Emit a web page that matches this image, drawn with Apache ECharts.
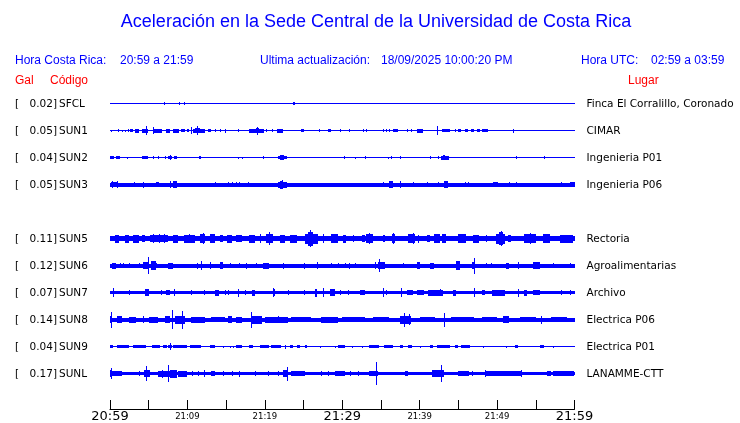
<!DOCTYPE html>
<html>
<head>
<meta charset="utf-8">
<script src="https://cdn.jsdelivr.net/npm/echarts@6/dist/echarts.min.js"></script>
<style>
  html, body { margin: 0; background: #fff; }
  #chart { width: 740px; height: 423px; }
</style>
</head>
<body>
<div id="chart"></div>
<script>
// estaciones, de arriba hacia abajo
const codes = ['SFCL', 'SUN1', 'SUN2', 'SUN3', 'SUN5', 'SUN6', 'SUN7', 'SUN8', 'SUN9', 'SUNL']
const peaks = ['0.02', '0.05', '0.04', '0.05', '0.11', '0.12', '0.07', '0.14', '0.04', '0.17']
const places = ['Finca El Corralillo, Coronado', 'CIMAR', 'Ingenieria P01', 'Ingenieria P06', 'Rectoria',
  'Agroalimentarias', 'Archivo', 'Electrica P06', 'Electrica P01', 'LANAMME-CTT']
// ruido de fondo (Gal, semi-amplitud)
const noise = [0, 0, 0, 0.028, 0.04, 0.027, 0.025, 0.032, 0, 0.025]

// eje de tiempo: minutos desde 20:59
const tickMinutes = [0, 10, 20, 30, 40, 50, 60]
const tickLabels = ['20:59', '21:09', '21:19', '21:29', '21:39', '21:49', '21:59']
const bigLabels = ['20:59', '21:29', '21:59']

// eventos por estacion: [inicio min, fin min, semi-amplitud Gal]
const sfcl = [[7.0, 7.0, 0.02], [8.9, 8.9, 0.02], [9.5, 9.5, 0.02], [23.7, 23.9, 0.02]]
const sun1 = [[0.1, 0.1, 0.015], [1.0, 1.0, 0.025], [1.5, 1.5, 0.015], [1.9, 1.9, 0.015], [2.3, 2.3, 0.02],
  [2.6, 3.0, 0.02], [3.2, 3.7, 0.028], [4.1, 4.9, 0.028], [4.65, 4.65, 0.065], [5.5, 5.5, 0.05],
  [5.6, 6.7, 0.028], [7.2, 7.8, 0.028], [8.1, 8.9, 0.028], [9.2, 9.7, 0.025], [9.9, 10.2, 0.025],
  [10.45, 10.45, 0.055], [10.7, 12.3, 0.028], [11.0, 11.6, 0.04], [11.3, 11.3, 0.07], [12.6, 13.0, 0.025],
  [13.5, 13.5, 0.025], [14.2, 14.2, 0.02], [14.8, 15.0, 0.028], [16.5, 16.5, 0.02], [17.9, 19.9, 0.028],
  [18.8, 19.3, 0.04], [19.05, 19.05, 0.06], [20.1, 20.1, 0.02], [20.9, 20.9, 0.025], [21.6, 22.3, 0.028],
  [24.7, 25.0, 0.025], [27.0, 27.0, 0.025], [28.1, 28.6, 0.025], [29.7, 29.7, 0.02], [30.9, 30.9, 0.02],
  [32.7, 32.7, 0.02], [33.1, 33.1, 0.02], [35.3, 35.3, 0.025], [35.6, 35.6, 0.025], [36.1, 36.1, 0.025],
  [36.5, 37.2, 0.025], [38.4, 38.4, 0.025], [38.9, 38.9, 0.025], [39.7, 40.4, 0.028], [42.2, 42.2, 0.07],
  [42.9, 43.9, 0.025], [44.5, 44.5, 0.025], [44.9, 45.4, 0.025], [45.8, 46.2, 0.025], [46.6, 47.0, 0.025],
  [47.4, 47.8, 0.025], [48.1, 48.8, 0.025], [52.0, 52.0, 0.03]]
const sun2 = [[0, 0.5, 0.025], [0.8, 1.3, 0.025], [2.2, 2.2, 0.015], [4.1, 4.9, 0.025], [5.6, 5.6, 0.02],
  [6.2, 6.2, 0.02], [7.1, 7.1, 0.02], [7.5, 8.0, 0.025], [7.8, 7.8, 0.035], [8.3, 8.7, 0.025],
  [11.5, 11.8, 0.025], [16.5, 16.5, 0.015], [17.0, 17.0, 0.015], [19.7, 19.7, 0.02], [21.7, 22.9, 0.025],
  [22.0, 22.5, 0.04], [30.2, 30.2, 0.02], [31.7, 31.7, 0.015], [33.0, 33.0, 0.02], [35.9, 35.9, 0.015],
  [36.3, 36.3, 0.025], [37.4, 37.4, 0.025], [41.3, 41.3, 0.02], [42.4, 42.4, 0.025], [42.7, 43.8, 0.03],
  [43.0, 43.3, 0.04], [52.4, 52.4, 0.02], [56.1, 56.1, 0.02]]
const sun3 = [[0.1, 1.0, 0.04], [0.3, 0.3, 0.055], [0.9, 0.9, 0.055], [3.1, 3.1, 0.035], [4.2, 4.2, 0.045],
  [6.0, 6.3, 0.04], [7.8, 7.8, 0.05], [8.2, 8.7, 0.05], [13.5, 13.5, 0.04], [15.3, 15.3, 0.035],
  [15.7, 15.7, 0.035], [16.3, 16.3, 0.035], [16.7, 16.7, 0.04], [17.8, 17.8, 0.035], [21.7, 22.8, 0.045],
  [22.0, 22.4, 0.06], [22.2, 22.2, 0.07], [35.2, 35.2, 0.035], [36.1, 36.5, 0.05], [37.4, 37.4, 0.055],
  [39.2, 39.2, 0.035], [40.9, 40.9, 0.035], [42.4, 42.4, 0.04], [43.1, 43.7, 0.05], [45.8, 45.8, 0.04],
  [46.2, 46.2, 0.04], [49.5, 50.1, 0.035], [51.6, 51.6, 0.035], [52.5, 52.5, 0.035], [58.3, 58.3, 0.035],
  [59.4, 60, 0.035]]
const sun5 = [[0.6, 1.2, 0.06], [1.9, 2.4, 0.06], [3.0, 3.7, 0.06], [4.1, 4.5, 0.055], [5.2, 7.5, 0.055],
  [5.6, 5.6, 0.07], [6.3, 6.3, 0.07], [7.0, 7.0, 0.065], [8.2, 8.8, 0.06], [9.5, 11.0, 0.06],
  [10.2, 10.2, 0.07], [11.6, 12.3, 0.065], [12.0, 12.0, 0.08], [12.9, 13.5, 0.065], [14.2, 14.6, 0.055],
  [15.1, 15.7, 0.06], [16.3, 17.0, 0.055], [17.9, 18.7, 0.06], [19.4, 19.4, 0.065], [20.2, 21.0, 0.07],
  [20.6, 20.6, 0.095], [21.9, 22.6, 0.06], [23.2, 24.1, 0.06], [25.2, 26.9, 0.075], [25.6, 26.2, 0.1],
  [25.8, 25.8, 0.125], [27.5, 27.7, 0.065], [28.6, 29.5, 0.07], [30.1, 30.5, 0.06], [31.4, 31.4, 0.055],
  [32.5, 32.9, 0.055], [33.1, 34.0, 0.065], [33.5, 33.5, 0.08], [35.3, 35.5, 0.055], [36.4, 36.8, 0.065],
  [36.5, 36.5, 0.085], [38.5, 39.4, 0.065], [39.2, 39.2, 0.08], [39.8, 39.8, 0.06], [40.9, 41.3, 0.055],
  [41.9, 42.6, 0.065], [42.9, 43.4, 0.065], [44.9, 46.0, 0.065], [46.9, 47.7, 0.06], [48.6, 48.6, 0.055],
  [49.9, 51.0, 0.075], [50.3, 50.7, 0.095], [50.5, 50.5, 0.11], [51.4, 51.8, 0.055], [53.5, 55.0, 0.065],
  [54.3, 54.3, 0.08], [55.9, 56.8, 0.065], [58.1, 59.8, 0.06]]
const sun6 = [[0.2, 0.8, 0.045], [1.3, 1.3, 0.035], [1.7, 1.7, 0.035], [2.4, 2.4, 0.035], [3.7, 3.7, 0.04],
  [4.3, 5.0, 0.05], [4.9, 4.9, 0.125], [5.3, 5.9, 0.07], [5.9, 6.1, 0.04], [7.5, 8.2, 0.045],
  [11.2, 11.2, 0.045], [11.8, 11.8, 0.07], [12.9, 12.9, 0.05], [14.2, 14.6, 0.05], [15.5, 15.5, 0.04],
  [16.6, 16.6, 0.04], [17.6, 17.6, 0.045], [18.9, 18.9, 0.04], [19.8, 20.6, 0.045], [22.3, 22.3, 0.045],
  [25.1, 25.1, 0.045], [26.8, 26.8, 0.05], [28.5, 28.5, 0.04], [29.5, 29.5, 0.04], [30.3, 30.3, 0.04],
  [30.9, 30.9, 0.045], [31.6, 31.6, 0.04], [34.2, 34.2, 0.05], [34.6, 35.5, 0.055], [34.7, 34.7, 0.095],
  [37.9, 37.9, 0.04], [39.6, 40.0, 0.05], [41.3, 41.9, 0.045], [44.7, 45.2, 0.07], [46.8, 47.1, 0.055],
  [47.0, 47.0, 0.12], [48.6, 48.6, 0.04], [49.2, 49.2, 0.04], [51.1, 51.6, 0.045], [52.7, 52.7, 0.05],
  [54.6, 55.5, 0.05], [57.2, 57.2, 0.04], [59.4, 59.4, 0.04]]
const sun7 = [[0.4, 0.4, 0.065], [2.4, 2.4, 0.04], [4.5, 5.1, 0.05], [6.6, 6.6, 0.04], [7.2, 7.7, 0.04],
  [8.3, 8.3, 0.05], [10.5, 10.5, 0.04], [12.2, 12.2, 0.04], [13.5, 14.1, 0.045], [14.8, 14.8, 0.04],
  [15.3, 15.3, 0.04], [16.5, 16.5, 0.06], [17.4, 17.4, 0.04], [18.3, 18.7, 0.045], [21.0, 21.3, 0.05],
  [21.1, 21.1, 0.065], [23.0, 23.0, 0.04], [25.1, 25.1, 0.04], [26.5, 26.8, 0.06], [27.5, 27.5, 0.07],
  [28.4, 29.0, 0.05], [29.7, 29.7, 0.04], [30.7, 30.7, 0.04], [32.3, 32.9, 0.04], [35.2, 35.2, 0.065],
  [35.7, 35.7, 0.04], [37.6, 37.6, 0.07], [38.3, 39.1, 0.04], [39.6, 40.6, 0.035], [41.1, 43.0, 0.045],
  [42.6, 42.6, 0.05], [44.3, 44.7, 0.045], [47.0, 47.0, 0.065], [48.0, 48.5, 0.04], [49.3, 51.0, 0.045],
  [52.7, 52.7, 0.06], [53.5, 53.8, 0.045], [54.6, 55.5, 0.04], [58.3, 58.3, 0.04], [59.4, 59.4, 0.04]]
const sun8 = [[0, 0.3, 0.05], [0.1, 0.1, 0.115], [0.9, 1.6, 0.05], [2.4, 3.4, 0.045], [4.2, 4.2, 0.05],
  [5.1, 6.2, 0.045], [7.1, 7.7, 0.05], [8.0, 8.0, 0.14], [8.4, 9.7, 0.06], [9.3, 9.3, 0.13],
  [10.5, 12.3, 0.045], [13.1, 14.8, 0.04], [15.3, 15.7, 0.05], [16.3, 17.0, 0.045], [18.2, 18.2, 0.12],
  [18.3, 19.6, 0.06], [20.0, 23.0, 0.045], [21.7, 21.7, 0.055], [23.4, 26.0, 0.04], [27.3, 29.5, 0.045],
  [30.0, 33.0, 0.04], [34.0, 36.0, 0.04], [37.4, 38.9, 0.06], [38.0, 38.0, 0.1], [38.6, 38.6, 0.085],
  [40.0, 42.0, 0.04], [43.1, 43.1, 0.1], [44.0, 47.0, 0.04], [48.0, 50.0, 0.04], [50.7, 51.6, 0.05],
  [53.0, 55.0, 0.04], [55.7, 55.7, 0.06], [57.0, 59.0, 0.04]]
const sun9 = [[0, 0.4, 0.025], [0.9, 2.4, 0.02], [3.0, 4.7, 0.02], [5.4, 6.5, 0.02], [6.9, 7.3, 0.02],
  [7.5, 8.0, 0.02], [7.8, 7.8, 0.05], [8.2, 9.9, 0.02], [10.3, 11.8, 0.02], [12.9, 13.5, 0.02],
  [14.6, 14.6, 0.015], [15.5, 15.5, 0.015], [15.9, 15.9, 0.015], [16.3, 17.0, 0.02], [17.9, 18.5, 0.02],
  [19.4, 20.6, 0.02], [20.8, 22.1, 0.025], [22.6, 22.6, 0.03], [23.2, 23.7, 0.02], [24.1, 24.5, 0.02],
  [25.2, 25.4, 0.02], [27.1, 27.1, 0.015], [29.1, 29.1, 0.015], [29.5, 30.3, 0.02], [31.2, 31.2, 0.015],
  [32.6, 32.6, 0.015], [33.5, 34.8, 0.02], [35.4, 36.5, 0.02], [37.4, 37.8, 0.02], [38.5, 39.0, 0.02],
  [40.0, 40.0, 0.015], [41.3, 41.7, 0.025], [42.3, 43.9, 0.025], [44.5, 44.9, 0.02], [45.4, 46.5, 0.02],
  [48.2, 48.2, 0.015], [51.2, 51.2, 0.015], [52.3, 52.7, 0.02], [55.5, 56.1, 0.02], [57.2, 57.2, 0.015]]
const sunl = [[0, 0.2, 0.05], [0.1, 0.1, 0.085], [0.2, 1.5, 0.04], [3.7, 3.7, 0.04], [4.4, 5.2, 0.05],
  [4.7, 4.7, 0.11], [6.2, 8.0, 0.045], [6.75, 6.75, 0.06], [7.5, 7.5, 0.125], [7.7, 8.6, 0.06],
  [8.8, 9.9, 0.045], [10.6, 10.6, 0.04], [11.4, 11.4, 0.04], [12.2, 12.2, 0.05], [13.1, 13.5, 0.04],
  [14.6, 14.6, 0.035], [15.7, 15.7, 0.035], [16.6, 16.6, 0.045], [18.7, 18.7, 0.035], [20.4, 20.4, 0.035],
  [21.7, 21.7, 0.035], [22.4, 23.0, 0.05], [22.8, 22.8, 0.1], [23.4, 25.2, 0.04], [27.3, 27.3, 0.035],
  [28.2, 28.2, 0.035], [29.0, 30.3, 0.04], [31.0, 31.0, 0.035], [32.0, 32.0, 0.035], [33.5, 34.6, 0.04],
  [34.4, 34.4, 0.17], [38.1, 38.5, 0.04], [41.6, 43.2, 0.05], [42.7, 42.7, 0.125], [44.9, 46.4, 0.035],
  [46.8, 46.8, 0.04], [48.4, 48.4, 0.05], [48.6, 53.1, 0.04], [53.1, 53.1, 0.05], [56.5, 57.0, 0.04],
  [57.2, 59.9, 0.04]]
const traces = [sfcl, sun1, sun2, sun3, sun5, sun6, sun7, sun8, sun9, sunl]

const BLUE = '#0000ff'
const RED = '#ff0000'
const GAL_PER_ROW = 0.4 // escala comun: separacion entre trazas en Gal
const ROWS = 333 / 27

// hueco despues de la cuarta traza
const slotOf = (i) => (i < 4 ? i + 1 : i + 2)

const chartDom = document.getElementById('chart')
const myChart = echarts.init(chartDom, null, { renderer: 'canvas' })

// cada evento es un bloque vertical centrado en la linea de la traza
const renderTrace = (slot) => (params, api) => {
  const t0 = api.value(0)
  const t1 = api.value(1)
  const amp = api.value(2)
  const a = api.coord([t0, slot])
  const b = api.coord([t1, slot])
  const c = api.coord([t0, slot - amp / GAL_PER_ROW])
  const cy = Math.round(a[1])
  const hTotal = Math.max(1, Math.round(2 * Math.abs(a[1] - c[1])))
  const top = Math.round(cy + 0.5 - hTotal / 2)
  const x0 = Math.round(a[0])
  const w = Math.max(1, Math.round(b[0]) - x0)
  return {
    type: 'rect',
    shape: { x: x0, y: top, width: w, height: hTotal },
    style: { fill: BLUE }
  }
}

const series = traces.map((ev, i) => {
  const rows = [[0, 60, 0]]
  if (noise[i] > 0) rows.push([0, 60, noise[i]])
  return {
    type: 'custom',
    name: codes[i],
    renderItem: renderTrace(slotOf(i)),
    encode: { x: [0, 1] },
    silent: true,
    animation: false,
    data: rows.concat(ev)
  }
})

const headerFont = 'normal 12px "Liberation Sans", Arial, sans-serif'
const labelFont = 'normal 10.5px "DejaVu Sans", sans-serif'

const headerTexts = [
  { text: 'Aceleración en la Sede Central de la Universidad de Costa Rica', x: 376, y: 22, align: 'center', font: 'normal 18px "Liberation Sans", Arial, sans-serif', fill: BLUE },
  { text: 'Hora Costa Rica:', x: 15, y: 61, align: 'left', font: headerFont, fill: BLUE },
  { text: '20:59 a 21:59', x: 120, y: 61, align: 'left', font: headerFont, fill: BLUE },
  { text: 'Ultima actualización:', x: 260, y: 61, align: 'left', font: headerFont, fill: BLUE },
  { text: '18/09/2025 10:00:20 PM', x: 381, y: 61, align: 'left', font: headerFont, fill: BLUE },
  { text: 'Hora UTC:', x: 581, y: 61, align: 'left', font: headerFont, fill: BLUE },
  { text: '02:59 a 03:59', x: 651, y: 61, align: 'left', font: headerFont, fill: BLUE },
  { text: 'Gal', x: 15, y: 81, align: 'left', font: headerFont, fill: RED },
  { text: 'Código', x: 50, y: 81, align: 'left', font: headerFont, fill: RED },
  { text: 'Lugar', x: 628, y: 81, align: 'left', font: headerFont, fill: RED }
]

const option = {
  animation: false,
  backgroundColor: '#ffffff',
  grid: { left: 110, right: 165.5, top: 76, bottom: 14, containLabel: false },
  xAxis: {
    type: 'value',
    position: 'bottom',
    min: 0,
    max: 60,
    interval: 5,
    splitLine: { show: false },
    axisLine: { onZero: false, lineStyle: { color: '#000', width: 1 } },
    axisTick: { inside: true, length: 9, lineStyle: { color: '#000', width: 1 } },
    axisLabel: {
      margin: 1,
      showMinLabel: true,
      showMaxLabel: true,
      hideOverlap: false,
      formatter: (v) => {
        const k = tickMinutes.indexOf(v)
        if (k < 0) return ''
        const s = tickLabels[k]
        return bigLabels.includes(s) ? '{big|' + s + '}' : '{small|' + s + '}'
      },
      rich: {
        big: { fontFamily: 'DejaVu Sans', fontSize: 13, color: '#000' },
        small: { fontFamily: 'DejaVu Sans', fontSize: 8.5, color: '#000', padding: [2, 0, 0, 0] }
      }
    }
  },
  yAxis: { type: 'value', min: 0, max: ROWS, inverse: true, show: false },
  series
}

myChart.setOption(option)

// textos de cabecera y etiquetas de cada traza
const graphic = headerTexts.map((t) => ({
  type: 'text',
  x: t.x,
  y: t.y,
  silent: true,
  style: { text: t.text, font: t.font, fill: t.fill, textAlign: t.align, textVerticalAlign: 'middle' }
}))
codes.forEach((code, i) => {
  const y = myChart.convertToPixel({ gridIndex: 0 }, [0, slotOf(i)])[1] + 1
  const x1 = myChart.convertToPixel({ gridIndex: 0 }, [60, slotOf(i)])[0]
  const base = { type: 'text', silent: true, y: y }
  graphic.push({ ...base, x: 15, style: { text: '[', font: labelFont, fill: '#000', textAlign: 'left', textVerticalAlign: 'middle' } })
  graphic.push({ ...base, x: 57, style: { text: peaks[i] + ']', font: labelFont, fill: '#000', textAlign: 'right', textVerticalAlign: 'middle' } })
  graphic.push({ ...base, x: 59, style: { text: code, font: labelFont, fill: '#000', textAlign: 'left', textVerticalAlign: 'middle' } })
  graphic.push({ ...base, x: x1 + 12, style: { text: places[i], font: labelFont, fill: '#000', textAlign: 'left', textVerticalAlign: 'middle' } })
})
myChart.setOption({ graphic })

window.addEventListener('resize', () => myChart.resize())
</script>
</body>
</html>
